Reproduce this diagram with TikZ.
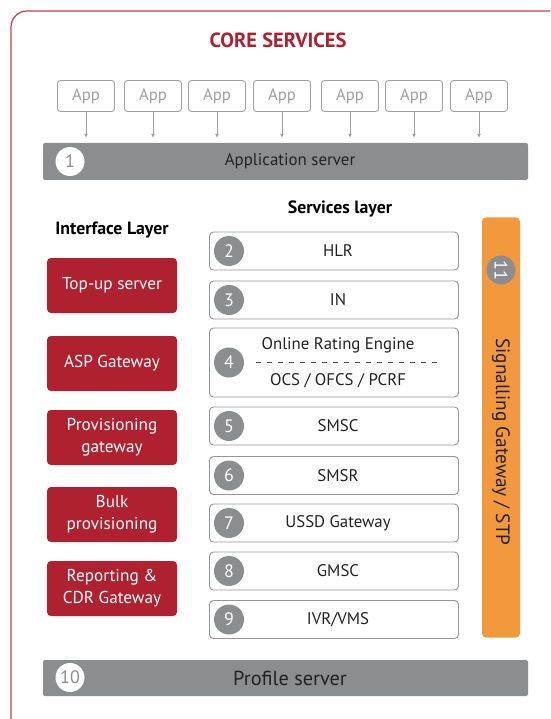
\documentclass[tikz,border=0pt]{standalone}
\usepackage{fontspec}
\setmainfont{PT Sans}
\usetikzlibrary{arrows.meta}
\definecolor{framered}{RGB}{198,62,78}
\definecolor{corered}{RGB}{176,33,48}
\definecolor{bargray}{RGB}{140,141,143}
\definecolor{appgray}{RGB}{160,160,160}
\definecolor{svcgray}{RGB}{150,150,150}
\definecolor{stporange}{RGB}{243,153,61}
\definecolor{darktext}{RGB}{34,34,34}
\tikzset{
  appbox/.style={draw=appgray, line width=0.9pt, rounded corners=3pt, minimum width=57pt, minimum height=31pt, text=appgray, font=\fontsize{16.7}{18}\selectfont, inner sep=0pt},
  apparrow/.style={draw=appgray, line width=0.9pt, -{Latex[length=4pt,width=4pt]}, shorten >=5pt},
  graybar/.style={fill=bargray, rounded corners=2pt, minimum width=485pt, inner sep=0pt},
  whitenum/.style={circle, fill=white, minimum size=29pt, inner sep=0pt, text=bargray, font=\fontsize{18}{20}\selectfont},
  graynum/.style={circle, fill=bargray, minimum size=30pt, inner sep=0pt, text=white, font=\fontsize{18}{20}\selectfont},
  redbox/.style={fill=corered, rounded corners=4pt, minimum width=130pt, minimum height=55pt, text=white, align=center, font=\fontsize{17.2}{22}\selectfont, inner sep=0pt},
  svcbox/.style={draw=svcgray, line width=0.9pt, fill=white, rounded corners=4pt, minimum width=249pt, inner sep=0pt},
  svctext/.style={text=darktext, font=\fontsize{16.8}{18}\selectfont, inner sep=0pt},
  heading/.style={text=black, font=\fontsize{17.8}{19}\bfseries\selectfont, inner sep=0pt},
}
\begin{document}
\begin{tikzpicture}[x=1pt,y=-1pt]
\useasboundingbox (0,0) rectangle (550,719);
\begin{scope}
\clip (0,0) rectangle (550,719);
\draw[framered, line width=1.2pt, rounded corners=16pt] (11,11) rectangle (566,735);
\end{scope}

\node[text=corered, font=\fontsize{20.5}{22}\bfseries\selectfont, inner sep=0pt] (title) at (278,40) {CORE SERVICES};

% application server
\node[graybar, minimum height=37pt] (appsrv) at (285.5,161.5) {};
\node[whitenum] (n1) at (70,161.5) {1};
\node[text=darktext, font=\fontsize{16.9}{18}\selectfont, inner sep=0pt] (appsrvt) at (290,161.5) {Application server};

% apps
\foreach \i/\x in {1/86,2/153,3/217,4/282,5/350,6/414,7/479}{
  \node[appbox] (app\i) at (\x,96) {App};
  \draw[apparrow] (app\i.south) -- (app\i.south |- appsrv.north);
}

% headings
\node[heading] (iface) at (112,230) {Interface Layer};
\node[heading] (svcl) at (340,209) {Services layer};

% interface layer
\node[redbox] (topup) at (112,285.5) {Top-up server};
\node[redbox] (asp) at (112,363.5) {ASP Gateway};
\node[redbox] (prov) at (112,437.5) {Provisioning\\gateway};
\node[redbox] (bulk) at (112,514.5) {Bulk\\provisioning};
\node[redbox] (rep) at (112,588.5) {Reporting \&\\CDR Gateway};

% services
\foreach \n/\y/\t in {2/251/HLR,3/300/IN,5/426/SMSC,6/475.5/SMSR,7/523/{USSD Gateway},8/571/GMSC,9/619.5/{IVR/VMS}}{
  \node[svcbox, minimum height=38pt] (s\n) at (334,\y) {};
  \node[graynum] (c\n) at (229,\y) {\n};
  \node[svctext] (t\n) at (338,\y) {\t};
}
\node[svcbox, minimum height=69pt] (s4) at (334,362.5) {};
\node[graynum] (c4) at (229,362.5) {4};
\node[svctext] (t4a) at (338,345) {Online Rating Engine};
\node[svctext] (t4b) at (338,381) {OCS / OFCS / PCRF};
\coordinate (d4l) at (256,362);
\coordinate (d4r) at (441,362);
\draw[darktext!80, line width=0.8pt, dash pattern=on 5pt off 6pt] (d4l) -- (d4r);

% signalling gateway
\node[fill=stporange, rounded corners=4pt, minimum width=38pt, minimum height=420pt, inner sep=0pt] (stp) at (501,427.5) {};
\node[graynum, minimum size=29pt, rotate=-90] (c11) at (501,270) {11};
\node[text=darktext, font=\fontsize{19.3}{21}\selectfont, rotate=-90, inner sep=0pt] (stpt) at (501,442) {Signalling Gateway / STP};

% profile server
\node[graybar, minimum height=36pt] (prof) at (285.5,678) {};
\node[whitenum] (n10) at (70,677.5) {10};
\node[text=darktext, font=\fontsize{20.3}{22}\selectfont, inner sep=0pt] (proft) at (290,678) {Profile server};
\end{tikzpicture}
\end{document}
